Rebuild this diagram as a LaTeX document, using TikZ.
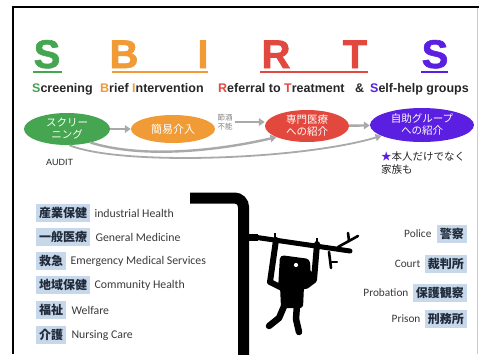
\documentclass[tikz,border=0pt]{standalone}
\usepackage{fontspec}
\setmainfont{Carlito}
\newfontfamily\arialfont{Liberation Sans}
\newfontfamily\heavyfont[BoldFeatures={FakeBold=1.6}]{Liberation Sans}
\newfontfamily\jp{Noto Sans CJK JP}
\usetikzlibrary{arrows.meta,shapes.geometric}

\definecolor{sgreen}{HTML}{46A551}
\definecolor{borange}{HTML}{F09B36}
\definecolor{rred}{HTML}{E2483E}
\definecolor{spurple}{HTML}{5A1FE0}
\definecolor{boxblue}{HTML}{C7D8EA}
\definecolor{flowgray}{HTML}{A9A9A9}
\definecolor{jpdark}{HTML}{1F2A3A}
\definecolor{textgray}{HTML}{3A3A3A}

\tikzset{
  bigletter/.style={font=\heavyfont\bfseries\fontsize{40}{40}\selectfont, anchor=base, inner sep=0pt},
  ubar/.style={line width=1.8pt},
  subword/.style={font=\arialfont\bfseries\fontsize{12.5}{13}\selectfont, anchor=base west, inner sep=0pt, text=black!85},
  stage/.style={ellipse, inner sep=0pt, text=white, font=\jp\fontsize{10.5}{12}\selectfont, align=center},
  flow/.style={draw=flowgray, line width=2.4pt, -{Triangle[length=6pt,width=7.5pt]}},
  thinflow/.style={draw=flowgray, line width=1.8pt, -{Triangle[length=6pt,width=7pt]}},
  jpbox/.style={fill=boxblue, text=jpdark, font=\jp\bfseries\fontsize{12}{12}\selectfont,
                inner xsep=3pt, inner ysep=0pt, minimum height=18pt},
  entext/.style={font=\fontsize{11.8}{13}\selectfont, text=textgray, inner sep=0pt},
  limb/.style={line width=5.5pt, line cap=round, line join=round},
  twig/.style={line width=2.6pt, line cap=round},
}

\begin{document}
\begin{tikzpicture}[x=1pt, y=-1pt]
\useasboundingbox (0,0) rectangle (479,354);
\fill[white] (0,0) rectangle (479,354);

% frame
\draw[line width=2.6pt] (12,7) -- (479,7);
\draw[line width=2.4pt] (13,6) -- (13,354);
\draw[black!20, line width=0.8pt] (477.5,8) -- (477.5,354);

% big initials with underlines
\node[bigletter, text=sgreen]   (s1) at (47,68)  {S};
\node[bigletter, text=borange]  (b)  at (124,68) {B};
\node[bigletter, text=borange]  (i)  at (203,68) {I};
\node[bigletter, text=rred]     (r)  at (276,68) {R};
\node[bigletter, text=rred]     (t)  at (355,68) {T};
\node[bigletter, text=spurple]  (s2) at (435,68) {S};
\draw[ubar, sgreen]  (33,72)  -- (62,72);
\draw[ubar, borange] (112,72) -- (208,72);
\draw[ubar, rred]    (260,72) -- (368,72);
\draw[ubar, spurple] (421,72) -- (448,72);

% expanded words
\node[subword] (w1) at (32,92)  {\textcolor{sgreen}{S}creening};
\node[subword] (w2) at (100,92) {\textcolor{borange}{B}rief \textcolor{borange}{I}ntervention};
\node[subword] (w3) at (218,92) {\textcolor{rred}{R}eferral to \textcolor{rred}{T}reatment};
\node[subword] (w4) at (355,92) {\&};
\node[subword] (w5) at (370,92) {\textcolor{spurple}{S}elf-help groups};

% stages
\node[stage, fill=sgreen,  minimum width=86pt,  minimum height=32pt] (scr) at (67,129)  {スクリー\\ニング};
\node[stage, fill=borange, minimum width=84pt,  minimum height=28pt, font=\jp\fontsize{11}{12}\selectfont] (bi)  at (173,129) {簡易介入};
\node[stage, fill=rred,    minimum width=84pt,  minimum height=32pt] (rt)  at (307,126) {専門医療\\への紹介};
\node[stage, fill=spurple, minimum width=104pt, minimum height=34pt] (shg) at (422,125) {自助グループ\\への紹介};

\node[font=\jp\fontsize{7.5}{8.5}\selectfont, text=black!50, align=center, inner sep=0pt] (abst) at (225,122) {節酒\\不能};

\draw[flow] (scr) -- (bi);
\draw[flow] ([xshift=2pt]abst.east) -- (abst.east -| rt.west);
\draw[flow] (rt) -- (shg);
\draw[flow] (scr.-30) .. controls (140,158) and (212,152) .. (rt.200);
\draw[thinflow] (scr.-82) .. controls (120,166) and (300,160) .. (shg.195);

\node[font=\arialfont\fontsize{9}{10}\selectfont, text=black!85, anchor=base west, inner sep=0pt] (audit) at (46,165) {AUDIT};
\node[font=\jp\fontsize{10.5}{13.5}\selectfont, text=black!85, align=left, anchor=north west, inner sep=0pt] (fam) at (381,151)
  {\textcolor{spurple}{★}本人だけでなく\\家族も};

% fields on the left
\node[jpbox, anchor=west] (f1) at (36,213) {産業保健};
\node[jpbox, anchor=west] (f2) at (36,237) {一般医療};
\node[jpbox, anchor=west] (f3) at (36,261) {救急};
\node[jpbox, anchor=west] (f4) at (36,285) {地域保健};
\node[jpbox, anchor=west] (f5) at (36,310) {福祉};
\node[jpbox, anchor=west] (f6) at (36,335) {介護};
\node[entext, anchor=west] (e1) at ([xshift=4pt]f1.east) {industrial Health};
\node[entext, anchor=west] (e2) at ([xshift=5pt]f2.east) {General Medicine};
\node[entext, anchor=west] (e3) at ([xshift=4pt]f3.east) {Emergency Medical Services};
\node[entext, anchor=west] (e4) at ([xshift=4pt]f4.east) {Community Health};
\node[entext, anchor=west] (e5) at ([xshift=5pt]f5.east) {Welfare};
\node[entext, anchor=west] (e6) at ([xshift=5pt]f6.east) {Nursing Care};

% fields on the right
\node[jpbox, anchor=east] (j1) at (467,234) {警察};
\node[jpbox, anchor=east] (j2) at (467,264) {裁判所};
\node[jpbox, anchor=east] (j3) at (467,293) {保護観察};
\node[jpbox, anchor=east] (j4) at (467,319) {刑務所};
\node[entext, anchor=east, font=\fontsize{11.3}{13}\selectfont] (p1) at ([xshift=-5pt]j1.west) {Police};
\node[entext, anchor=east, font=\fontsize{11.3}{13}\selectfont] (p2) at ([xshift=-4pt]j2.west) {Court};
\node[entext, anchor=east, font=\fontsize{11.3}{13}\selectfont] (p3) at ([xshift=-4pt]j3.west) {Probation};
\node[entext, anchor=east, font=\fontsize{11.3}{13}\selectfont] (p4) at ([xshift=-4pt]j4.west) {Prison};

% the pipe
\draw[line width=11pt, rounded corners=9pt] (190,198) -- (243.5,198) -- (243.5,358);

% branch sticking out of the pipe
\fill (249,234) rectangle (258,241);
\draw[line width=5pt, line cap=round] (257,237.5) -- (350,251);
\draw[twig] (338,247) -- (358,236);
\draw[twig] (348,233) -- (349,241);
\draw[twig] (329,252) -- (331,268);
\draw[line width=2.2pt, line cap=round] (331,262) -- (337,262);
\draw[line width=1.8pt] (275,233) -- (275,240);
\draw[line width=1.8pt] (317,238) -- (317,245);

% figure hanging from the branch
\draw[limb, line width=6pt] (276,240) -- (270,282) -- (282,288);
\draw[limb, line width=6pt] (317,244) -- (314,280) -- (306,286);
\fill[rounded corners=4pt] (280,255) -- (310,259) -- (311,285) -- (300,292) -- (278,290) -- cycle;
\fill (310,270) -- (314.5,275) -- (310,280) -- cycle;
\fill[white] (296,265) circle (2.1pt);
\fill[rounded corners=3pt] (280,286) -- (304,286) -- (303,308) -- (281,308) -- cycle;
\draw[limb, line width=6.5pt] (285,304) -- (279,318) -- (269,326);
\draw[limb, line width=6.5pt] (297,305) -- (296,319) -- (299,332);
\end{tikzpicture}
\end{document}
